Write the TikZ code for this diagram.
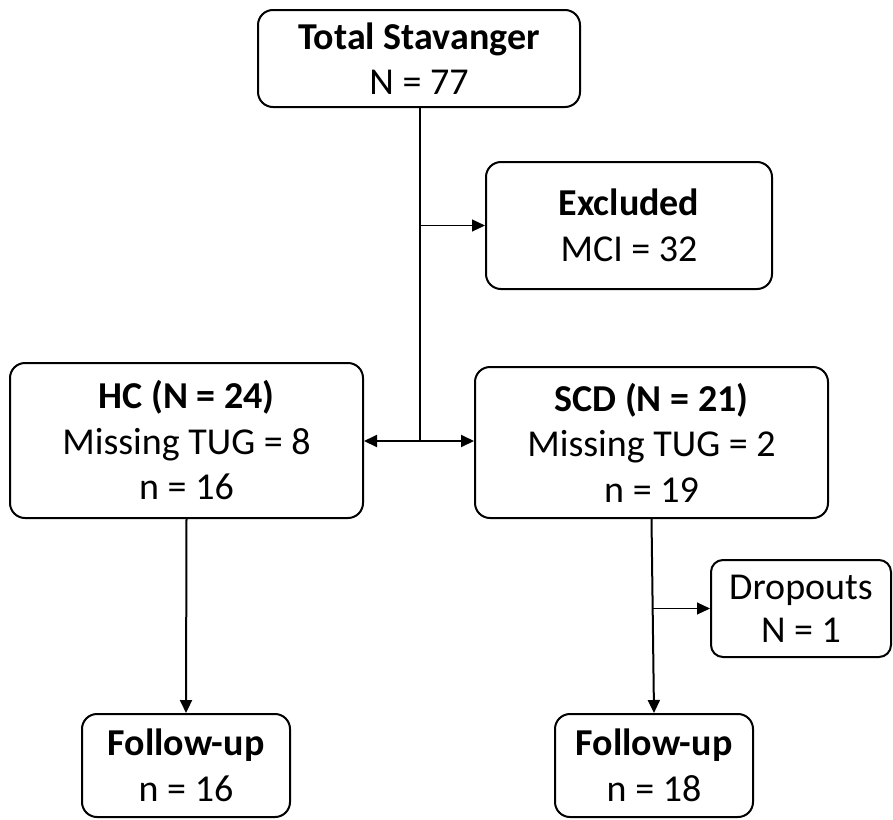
\documentclass[tikz,border=0pt]{standalone}
\usepackage{fontspec}
\setmainfont{Carlito}
\usetikzlibrary{arrows.meta,calc}
\begin{document}
\begin{tikzpicture}[x=1pt,y=-1pt,
  box/.style={draw,line width=2pt,rounded corners=15pt,align=center,inner sep=0pt,
    font=\fontsize{38}{45.5}\selectfont},
  sbox/.style={box,rounded corners=12pt,font=\fontsize{38}{43}\selectfont},
  mainline/.style={line width=2pt},
  thinline/.style={line width=1pt},
  tip/.style={-{Triangle[length=13pt,width=12pt]}}]
\useasboundingbox (0,0) rectangle (893,819);
\node[box,minimum width=322pt,minimum height=97pt] (total) at (419,58.5)
  {\textbf{Total Stavanger}\\N = 77};
\node[box,minimum width=286pt,minimum height=127pt] (excl) at (629,225.5)
  {\textbf{Excluded}\\MCI = 32};
\node[box,minimum width=353pt,minimum height=155pt] (hc) at (186.5,440.5)
  {\textbf{HC (N = 24)}\\Missing TUG = 8\\n = 16};
\node[box,minimum width=353pt,minimum height=151pt] (scd) at (651.5,442.5)
  {\textbf{SCD (N = 21)}\\Missing TUG = 2\\n = 19};
\node[sbox,minimum width=180pt,minimum height=97pt] (drop) at (801,608.5)
  {Dropouts\\N = 1};
\node[box,minimum width=208pt,minimum height=103pt] (fu1) at (186,765.5)
  {\textbf{Follow-up}\\n = 16};
\node[box,minimum width=198pt,minimum height=103pt] (fu2) at (654,765.5)
  {\textbf{Follow-up}\\n = 18};
\coordinate (j) at (420,441);
\coordinate (b1) at (420,225.5);
\coordinate (b2) at (653,608.5);
\draw[mainline] (total.south -| j) -- (j);
\draw[mainline,tip] (j) -- (hc.east |- j);
\draw[mainline,tip] (j) -- (scd.west |- j);
\draw[thinline,tip] (b1) -- (excl.west);
\draw[mainline,tip] (hc.south) -- (fu1.north);
\draw[mainline,tip] (scd.south) -- (fu2.north);
\draw[thinline,tip] (b2) -- (drop.west);
\end{tikzpicture}
\end{document}
